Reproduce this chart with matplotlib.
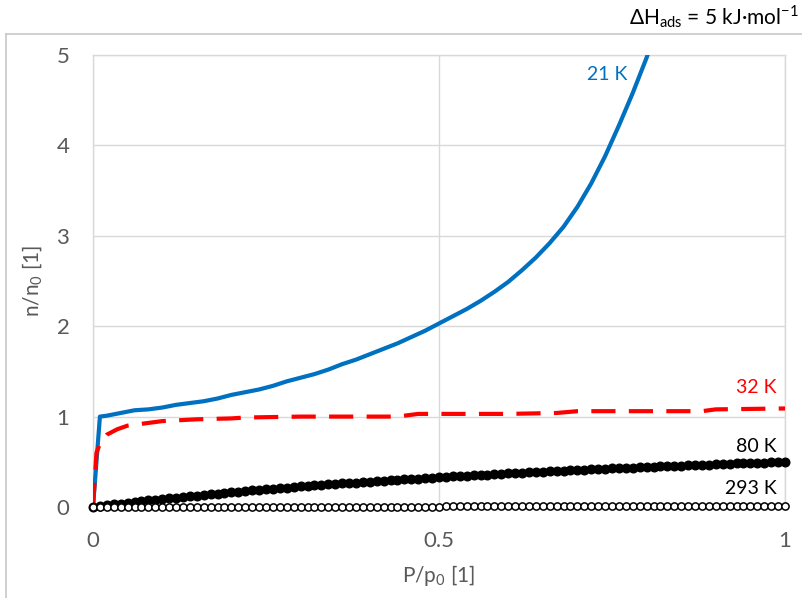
import numpy as np
import matplotlib
matplotlib.use("Agg")
import matplotlib.pyplot as plt
from matplotlib.lines import Line2D
from matplotlib.ticker import FixedLocator, FixedFormatter

plt.rcParams['font.family'] = ['Lato', 'DejaVu Sans']
plt.rcParams['mathtext.fontset'] = 'custom'
plt.rcParams['mathtext.rm'] = 'Lato'

# 21 K isotherm (solid blue)
x21 = [0.0, 0.01, 0.02, 0.04, 0.06, 0.08, 0.10, 0.12, 0.14, 0.16, 0.18, 0.20,
       0.22, 0.24, 0.26, 0.28, 0.30, 0.32, 0.34, 0.36, 0.38, 0.40, 0.42, 0.44,
       0.46, 0.48, 0.50, 0.52, 0.54, 0.56, 0.58, 0.60, 0.62, 0.64, 0.66, 0.68,
       0.70, 0.72, 0.74, 0.76, 0.78, 0.80, 0.82]
n21 = [0.0, 1.00, 1.01, 1.04, 1.07, 1.08, 1.10, 1.13, 1.15, 1.17, 1.20, 1.24,
       1.27, 1.30, 1.34, 1.39, 1.43, 1.47, 1.52, 1.58, 1.63, 1.69, 1.75, 1.81,
       1.88, 1.95, 2.03, 2.11, 2.19, 2.28, 2.38, 2.49, 2.62, 2.76, 2.92, 3.10,
       3.32, 3.58, 3.88, 4.22, 4.58, 4.97, 5.40]

# 32 K isotherm (red dashed)
x32 = [0.0, 0.005, 0.01, 0.02, 0.035, 0.05, 0.07, 0.10, 0.15, 0.20, 0.22,
       0.30, 0.44, 0.47, 0.60, 0.67, 0.70, 0.88, 0.90, 1.0]
n32 = [0.0, 0.60, 0.70, 0.80, 0.86, 0.90, 0.92, 0.95, 0.97, 0.98, 0.99,
       1.00, 1.00, 1.03, 1.03, 1.04, 1.06, 1.06, 1.08, 1.09]

# 80 K isotherm (filled markers), P/p0 = 0, 0.01, ..., 1
n80 = [0.000, 0.010, 0.019, 0.028, 0.037, 0.047, 0.055, 0.064, 0.072, 0.080,
       0.089, 0.097, 0.104, 0.112, 0.120, 0.127, 0.135, 0.142, 0.149, 0.156,
       0.163, 0.170, 0.176, 0.183, 0.189, 0.196, 0.202, 0.208, 0.214, 0.221,
       0.227, 0.232, 0.238, 0.244, 0.249, 0.255, 0.260, 0.266, 0.271, 0.276,
       0.282, 0.287, 0.292, 0.296, 0.301, 0.306, 0.311, 0.315, 0.320, 0.325,
       0.330, 0.334, 0.338, 0.343, 0.347, 0.351, 0.355, 0.359, 0.364, 0.368,
       0.372, 0.376, 0.379, 0.383, 0.387, 0.391, 0.394, 0.398, 0.402, 0.405,
       0.410, 0.413, 0.416, 0.420, 0.423, 0.426, 0.430, 0.433, 0.436, 0.440,
       0.443, 0.446, 0.449, 0.452, 0.455, 0.458, 0.461, 0.464, 0.467, 0.470,
       0.473, 0.476, 0.479, 0.482, 0.484, 0.487, 0.490, 0.492, 0.495, 0.497,
       0.500]

# 293 K isotherm (open markers)
n293 = [0.000, 0.000, 0.000, 0.001, 0.001, 0.001, 0.001, 0.001, 0.001, 0.001,
        0.001, 0.001, 0.002, 0.002, 0.002, 0.002, 0.002, 0.002, 0.002, 0.002,
        0.002, 0.003, 0.003, 0.003, 0.003, 0.003, 0.003, 0.003, 0.003, 0.003,
        0.004, 0.004, 0.004, 0.004, 0.004, 0.004, 0.004, 0.004, 0.004, 0.004,
        0.005, 0.005, 0.005, 0.005, 0.005, 0.005, 0.005, 0.005, 0.005, 0.005,
        0.005, 0.006, 0.006, 0.006, 0.006, 0.006, 0.006, 0.006, 0.006, 0.006,
        0.006, 0.007, 0.007, 0.007, 0.007, 0.007, 0.007, 0.007, 0.007, 0.007,
        0.007, 0.008, 0.008, 0.008, 0.008, 0.008, 0.008, 0.008, 0.008, 0.008,
        0.008, 0.008, 0.009, 0.009, 0.009, 0.009, 0.009, 0.009, 0.009, 0.009,
        0.009, 0.009, 0.009, 0.010, 0.010, 0.010, 0.010, 0.010, 0.010, 0.010,
        0.010]

x_pts = np.linspace(0, 1, len(n80))

xticks = [0, 0.5, 1]
xtick_labels = ['0', '0.5', '1']
yticks = [0, 1, 2, 3, 4, 5]

grey = '#595959'
gridc = '#D9D9D9'

fig = plt.figure(figsize=(8.03, 5.98), dpi=100)
ax = fig.add_axes([93/803, 1-507/598, 692/803, 452/598])

ax.plot(x21, n21, color='#0070C0', lw=3.0, zorder=4, solid_joinstyle='round')
ax.plot(x32, n32, color='#FF0000', lw=3.0, dashes=(5.8, 3.2), zorder=4)
ax.plot(x_pts, n80, 'o', color='black', ms=6.2, zorder=5, clip_on=False)
ax.plot(x_pts, n293, 'o', mfc='white', mec='black', mew=1.1, ms=5.2,
        zorder=5, clip_on=False)

ax.set_xlim(0, 1)
ax.set_ylim(0, 5)
ax.xaxis.set_major_locator(FixedLocator(xticks))
ax.xaxis.set_major_formatter(FixedFormatter(xtick_labels))
ax.set_yticks(yticks)
ax.grid(True, color=gridc, lw=1.0)
ax.set_axisbelow(True)
for s in ax.spines.values():
    s.set_color(gridc)
    s.set_linewidth(1.0)
ax.tick_params(length=0, labelsize=16, colors=grey)
ax.tick_params(axis='y', pad=17)
ax.tick_params(axis='x', pad=17)

ax.set_xlabel('P/p$_\\mathregular{0}$ [1]', fontsize=15, color=grey, labelpad=9)
ax.set_ylabel('n/n$_\\mathregular{0}$ [1]', fontsize=15, color=grey, labelpad=8)

ax.text(0.772, 4.78, '21 K', color='#0070C0', fontsize=14, ha='right', va='center')
ax.text(0.988, 1.32, '32 K', color='#FF0000', fontsize=14, ha='right', va='center')
ax.text(0.988, 0.67, '80 K', color='black', fontsize=14, ha='right', va='center')
ax.text(0.988, 0.20, '293 K', color='black', fontsize=14, ha='right', va='center')

# chart frame (top and left edges visible)
top = 1 - 34/598
left = 6/803
fig.add_artist(Line2D([left, 1.0], [top, top], color='#C8C8C8', lw=1.2,
                      transform=fig.transFigure))
fig.add_artist(Line2D([left, left], [0, top], color='#C8C8C8', lw=1.2,
                      transform=fig.transFigure))

fig.text(799/803, 1 - 17/598,
         '$\\mathregular{\\Delta H_{ads}}$ = 5 kJ·mol$^{\\mathregular{-1}}$',
         fontsize=15, color='black', ha='right', va='center')

fig.savefig('out.png', dpi=100)
